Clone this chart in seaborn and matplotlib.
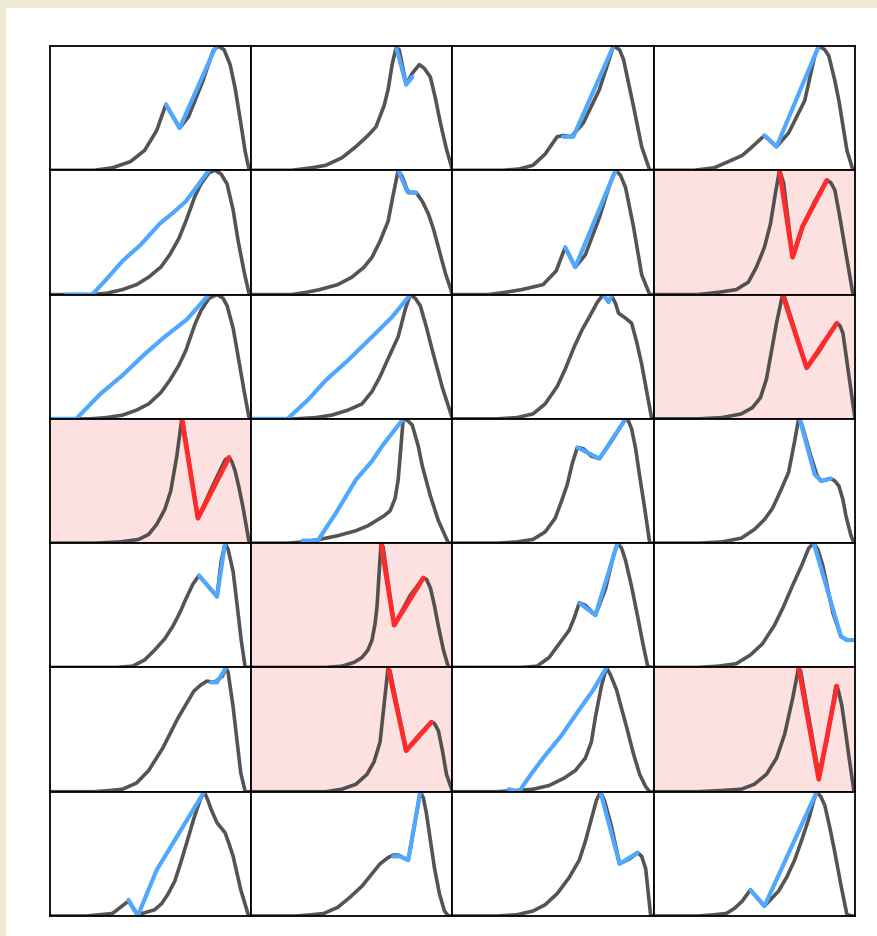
import matplotlib
matplotlib.use("Agg")
import matplotlib.pyplot as plt
import pandas as pd
import seaborn as sns
from matplotlib.patches import Rectangle

# ---- data: density curves (c) and overlay polylines (m) per panel (row, col) ----
c00 = [(0,0),(0.22,0),(0.31,0.02),(0.40,0.07),(0.47,0.16),(0.53,0.32),(0.576,0.53),(0.644,0.34),(0.688,0.43),(0.76,0.72),(0.81,0.96),(0.835,1.0),(0.865,0.97),(0.895,0.85),(0.92,0.66),(0.948,0.38),(0.97,0.15),(0.99,0.0),(1.0,0.0)]
m00 = [(0.576,0.53),(0.644,0.34),(0.825,1.0)]
c01 = [(0,0),(0.2,0),(0.30,0.02),(0.37,0.04),(0.45,0.10),(0.52,0.19),(0.58,0.28),(0.62,0.35),(0.66,0.52),(0.68,0.65),(0.70,0.85),(0.72,0.99),(0.735,0.97),(0.77,0.69),(0.80,0.78),(0.835,0.85),(0.86,0.82),(0.89,0.75),(0.915,0.58),(0.94,0.38),(0.97,0.17),(1.0,0.0)]
m01 = [(0.72,0.99),(0.77,0.69),(0.80,0.75)]
c02 = [(0,0),(0.25,0),(0.33,0.01),(0.40,0.04),(0.46,0.13),(0.52,0.27),(0.55,0.28),(0.59,0.27),(0.65,0.38),(0.73,0.65),(0.77,0.85),(0.80,1.0),(0.83,0.97),(0.85,0.89),(0.875,0.70),(0.90,0.51),(0.94,0.19),(0.98,0.0),(1.0,0.0)]
m02 = [(0.55,0.27),(0.60,0.27),(0.80,1.0)]
c03 = [(0,0),(0.2,0),(0.30,0.02),(0.385,0.08),(0.44,0.12),(0.49,0.19),(0.55,0.28),(0.61,0.19),(0.67,0.30),(0.75,0.56),(0.80,0.92),(0.82,1.0),(0.85,0.97),(0.87,0.92),(0.90,0.72),(0.92,0.56),(0.96,0.16),(0.99,0.0),(1.0,0.0)]
m03 = [(0.55,0.28),(0.61,0.19),(0.82,1.0)]

c10 = [(0,0),(0.2,0),(0.28,0.01),(0.36,0.04),(0.43,0.08),(0.49,0.14),(0.55,0.22),(0.595,0.32),(0.64,0.45),(0.675,0.59),(0.72,0.79),(0.75,0.89),(0.79,0.98),(0.82,1.0),(0.85,0.97),(0.88,0.89),(0.91,0.68),(0.935,0.43),(0.965,0.18),(0.99,0.0),(1.0,0.0)]
m10 = [(0.08,0.0),(0.21,0.0),(0.29,0.14),(0.36,0.27),(0.45,0.40),(0.545,0.57),(0.62,0.67),(0.675,0.75),(0.79,1.0)]
c11 = [(0,0),(0.2,0),(0.28,0.02),(0.34,0.04),(0.43,0.08),(0.50,0.14),(0.56,0.22),(0.60,0.30),(0.64,0.43),(0.68,0.59),(0.705,0.80),(0.73,1.0),(0.75,0.95),(0.78,0.82),(0.82,0.82),(0.85,0.75),(0.88,0.65),(0.905,0.53),(0.93,0.38),(0.965,0.17),(1.0,0.0)]
m11 = [(0.73,1.0),(0.775,0.83),(0.82,0.82)]
c12 = [(0,0),(0.18,0),(0.27,0.02),(0.345,0.04),(0.45,0.08),(0.515,0.19),(0.56,0.38),(0.61,0.22),(0.66,0.32),(0.73,0.62),(0.78,0.88),(0.81,1.0),(0.835,0.96),(0.86,0.86),(0.90,0.54),(0.94,0.16),(0.98,0.0),(1.0,0.0)]
m12 = [(0.56,0.38),(0.61,0.22),(0.81,1.0)]
c13 = [(0,0),(0.22,0),(0.33,0.02),(0.41,0.04),(0.47,0.10),(0.51,0.22),(0.55,0.38),(0.58,0.57),(0.605,0.82),(0.625,1.0),(0.645,0.90),(0.69,0.30),(0.74,0.55),(0.80,0.75),(0.86,0.92),(0.88,0.90),(0.90,0.84),(0.925,0.62),(0.95,0.38),(0.99,0.0),(1.0,0.0)]
m13 = [(0.625,1.0),(0.69,0.30),(0.74,0.55),(0.86,0.92)]

c20 = [(0,0),(0.2,0),(0.28,0.01),(0.36,0.03),(0.43,0.07),(0.49,0.12),(0.55,0.21),(0.595,0.31),(0.64,0.43),(0.675,0.55),(0.72,0.76),(0.75,0.87),(0.79,0.97),(0.83,1.0),(0.86,0.97),(0.88,0.91),(0.91,0.73),(0.935,0.50),(0.965,0.22),(0.99,0.0),(1.0,0.0)]
m20 = [(0.0,0.0),(0.13,0.0),(0.25,0.20),(0.36,0.35),(0.47,0.52),(0.57,0.66),(0.68,0.80),(0.79,1.0)]
c21 = [(0,0),(0.22,0),(0.32,0.01),(0.40,0.03),(0.48,0.07),(0.55,0.12),(0.60,0.22),(0.64,0.34),(0.69,0.52),(0.73,0.66),(0.765,0.88),(0.79,1.0),(0.815,0.97),(0.84,0.91),(0.87,0.74),(0.90,0.55),(0.95,0.25),(1.0,0.0)]
m21 = [(0.0,0.0),(0.18,0.0),(0.28,0.15),(0.37,0.31),(0.48,0.47),(0.60,0.66),(0.70,0.82),(0.79,1.0)]
c22 = [(0,0),(0.22,0),(0.32,0.01),(0.40,0.04),(0.46,0.12),(0.52,0.26),(0.56,0.40),(0.605,0.58),(0.645,0.72),(0.68,0.82),(0.72,0.94),(0.75,1.0),(0.775,0.94),(0.79,0.99),(0.81,0.93),(0.825,0.85),(0.86,0.81),(0.89,0.77),(0.915,0.62),(0.94,0.44),(0.965,0.22),(0.99,0.0),(1.0,0.0)]
m22 = [(0.75,1.0),(0.775,0.94),(0.79,0.99)]
c23 = [(0,0),(0.22,0),(0.34,0.01),(0.435,0.04),(0.49,0.09),(0.53,0.17),(0.56,0.32),(0.58,0.50),(0.61,0.77),(0.64,1.0),(0.65,0.98),(0.76,0.41),(0.825,0.55),(0.88,0.70),(0.91,0.77),(0.925,0.75),(0.94,0.69),(0.96,0.46),(0.98,0.23),(1.0,0.0)]
m23 = [(0.64,1.0),(0.76,0.41),(0.91,0.77)]

c30 = [(0,0),(0.22,0),(0.35,0.01),(0.44,0.03),(0.49,0.07),(0.53,0.15),(0.57,0.27),(0.60,0.42),(0.63,0.70),(0.655,1.0),(0.66,0.98),(0.735,0.20),(0.805,0.45),(0.87,0.67),(0.89,0.69),(0.905,0.65),(0.92,0.58),(0.94,0.44),(0.96,0.28),(0.99,0.0),(1.0,0.0)]
m30 = [(0.655,1.0),(0.735,0.20),(0.89,0.69)]
c31 = [(0,0),(0.18,0),(0.26,0.01),(0.34,0.03),(0.43,0.06),(0.52,0.10),(0.58,0.14),(0.62,0.18),(0.66,0.22),(0.69,0.26),(0.715,0.36),(0.73,0.51),(0.745,0.80),(0.755,1.0),(0.775,0.99),(0.80,0.95),(0.83,0.78),(0.85,0.62),(0.89,0.38),(0.93,0.18),(0.98,0.0),(1.0,0.0)]
m31 = [(0.255,0.02),(0.33,0.02),(0.42,0.24),(0.52,0.51),(0.60,0.66),(0.65,0.78),(0.755,1.0)]
c32 = [(0,0),(0.22,0),(0.32,0.01),(0.40,0.03),(0.46,0.09),(0.51,0.20),(0.54,0.33),(0.57,0.47),(0.595,0.64),(0.62,0.77),(0.65,0.76),(0.69,0.70),(0.73,0.68),(0.79,0.82),(0.84,0.95),(0.86,1.0),(0.875,0.98),(0.89,0.92),(0.91,0.76),(0.93,0.54),(0.955,0.28),(0.98,0.0),(1.0,0.0)]
m32 = [(0.62,0.77),(0.73,0.68),(0.86,1.0)]
c33 = [(0,0),(0.22,0),(0.34,0.01),(0.435,0.04),(0.50,0.11),(0.55,0.19),(0.59,0.28),(0.63,0.42),(0.67,0.57),(0.70,0.82),(0.72,1.0),(0.735,0.96),(0.775,0.73),(0.81,0.55),(0.83,0.50),(0.855,0.51),(0.88,0.52),(0.90,0.50),(0.92,0.46),(0.94,0.35),(0.955,0.22),(0.98,0.06),(0.995,0.0),(1.0,0.0)]
m33 = [(0.725,1.0),(0.80,0.55),(0.835,0.50),(0.88,0.52)]

c40 = [(0,0),(0.22,0),(0.33,0.0),(0.41,0.01),(0.47,0.06),(0.52,0.14),(0.57,0.23),(0.61,0.33),(0.645,0.44),(0.675,0.55),(0.71,0.67),(0.74,0.74),(0.83,0.57),(0.85,0.85),(0.87,1.0),(0.885,0.95),(0.91,0.77),(0.93,0.50),(0.95,0.22),(0.97,0.0),(1.0,0.0)]
m40 = [(0.74,0.74),(0.83,0.57),(0.87,1.0)]
c41 = [(0,0),(0.25,0),(0.37,0.0),(0.45,0.01),(0.51,0.04),(0.55,0.08),(0.58,0.14),(0.60,0.22),(0.615,0.35),(0.625,0.49),(0.635,0.75),(0.645,1.0),(0.655,0.97),(0.71,0.34),(0.79,0.58),(0.855,0.72),(0.87,0.71),(0.89,0.64),(0.91,0.50),(0.93,0.33),(0.955,0.14),(0.98,0.0),(1.0,0.0)]
m41 = [(0.645,1.0),(0.71,0.34),(0.855,0.72)]
c42 = [(0,0),(0.22,0),(0.34,0.0),(0.42,0.01),(0.48,0.08),(0.53,0.19),(0.58,0.30),(0.605,0.40),(0.63,0.52),(0.66,0.50),(0.71,0.42),(0.76,0.63),(0.80,0.90),(0.82,1.0),(0.84,0.96),(0.86,0.86),(0.89,0.65),(0.92,0.41),(0.945,0.20),(0.97,0.01),(0.99,0.0),(1.0,0.0)]
m42 = [(0.63,0.52),(0.71,0.42),(0.82,1.0)]
c43 = [(0,0),(0.22,0),(0.32,0.01),(0.41,0.03),(0.48,0.10),(0.54,0.19),(0.60,0.34),(0.645,0.49),(0.69,0.66),(0.735,0.82),(0.77,0.96),(0.795,1.0),(0.815,0.95),(0.84,0.82),(0.865,0.63),(0.89,0.44),(0.93,0.25),(0.96,0.22),(1.0,0.22)]
m43 = [(0.795,1.0),(0.93,0.25),(0.96,0.22),(1.0,0.22)]

c50 = [(0,0),(0.22,0),(0.30,0.01),(0.36,0.02),(0.43,0.07),(0.49,0.17),(0.56,0.35),(0.635,0.59),(0.715,0.81),(0.75,0.86),(0.78,0.89),(0.818,0.88),(0.857,0.93),(0.875,1.0),(0.885,0.96),(0.91,0.68),(0.93,0.40),(0.948,0.15),(0.97,0.0),(1.0,0.0)]
m50 = [(0.80,0.88),(0.83,0.88),(0.875,1.0)]
c51 = [(0,0),(0.25,0),(0.37,0.0),(0.45,0.02),(0.52,0.06),(0.575,0.14),(0.61,0.24),(0.64,0.40),(0.66,0.70),(0.68,1.0),(0.69,0.97),(0.77,0.33),(0.83,0.45),(0.895,0.56),(0.91,0.55),(0.93,0.49),(0.95,0.33),(0.97,0.14),(1.0,0.0)]
m51 = [(0.68,1.0),(0.77,0.33),(0.895,0.56)]
c52 = [(0,0),(0.22,0),(0.32,0.01),(0.40,0.02),(0.48,0.05),(0.555,0.11),(0.61,0.17),(0.66,0.27),(0.69,0.40),(0.71,0.60),(0.74,0.85),(0.765,1.0),(0.785,0.94),(0.815,0.82),(0.84,0.67),(0.865,0.52),(0.90,0.30),(0.93,0.14),(0.96,0.04),(0.98,0.0),(1.0,0.0)]
m52 = [(0.28,0.02),(0.33,0.0),(0.39,0.14),(0.45,0.27),(0.54,0.45),(0.63,0.66),(0.70,0.82),(0.765,1.0)]
c53 = [(0,0),(0.22,0),(0.34,0.01),(0.435,0.02),(0.50,0.06),(0.56,0.14),(0.61,0.27),(0.65,0.46),(0.69,0.75),(0.72,1.0),(0.73,0.97),(0.82,0.14),(0.86,0.41),(0.905,0.85),(0.915,0.83),(0.935,0.69),(0.955,0.46),(0.97,0.28),(0.995,0.0),(1.0,0.0)]
m53 = [(0.72,1.0),(0.82,0.10),(0.91,0.85)]

c60 = [(0,0),(0.18,0),(0.31,0.02),(0.39,0.12),(0.436,0.01),(0.52,0.05),(0.555,0.10),(0.584,0.17),(0.62,0.28),(0.65,0.43),(0.685,0.62),(0.714,0.78),(0.745,0.93),(0.766,1.0),(0.785,0.93),(0.80,0.86),(0.83,0.75),(0.87,0.67),(0.89,0.58),(0.91,0.48),(0.948,0.21),(0.987,0.0),(1.0,0.0)]
m60 = [(0.39,0.13),(0.436,0.0),(0.53,0.37),(0.766,1.0)]
c61 = [(0,0),(0.22,0),(0.30,0.01),(0.36,0.02),(0.43,0.07),(0.49,0.15),(0.55,0.24),(0.60,0.34),(0.64,0.42),(0.68,0.47),(0.705,0.49),(0.73,0.49),(0.78,0.45),(0.81,0.72),(0.84,1.0),(0.855,0.95),(0.87,0.83),(0.89,0.61),(0.91,0.39),(0.935,0.18),(0.96,0.04),(0.98,0.0),(1.0,0.0)]
m61 = [(0.705,0.48),(0.74,0.48),(0.78,0.45),(0.84,1.0)]
c62 = [(0,0),(0.22,0),(0.32,0.01),(0.40,0.04),(0.46,0.09),(0.52,0.18),(0.58,0.31),(0.63,0.45),(0.66,0.60),(0.69,0.78),(0.715,0.93),(0.735,1.0),(0.755,0.93),(0.79,0.72),(0.83,0.42),(0.88,0.46),(0.92,0.51),(0.94,0.48),(0.96,0.38),(0.975,0.15),(0.985,0.0),(1.0,0.0)]
m62 = [(0.735,1.0),(0.83,0.42),(0.92,0.51)]
c63 = [(0,0),(0.22,0),(0.30,0.01),(0.36,0.02),(0.40,0.06),(0.44,0.12),(0.48,0.21),(0.55,0.08),(0.62,0.20),(0.66,0.31),(0.70,0.45),(0.735,0.61),(0.77,0.78),(0.795,0.93),(0.81,1.0),(0.83,0.96),(0.85,0.89),(0.875,0.71),(0.90,0.51),(0.93,0.25),(0.96,0.01),(0.99,0.0),(1.0,0.0)]
m63 = [(0.48,0.21),(0.55,0.08),(0.81,1.0)]

highlighted = [(1, 3), (2, 3), (3, 0), (4, 1), (5, 1), (5, 3)]
n_rows, n_cols = 7, 4

# ---- styling ----
sns.set_theme(style="white")
W, H, DPI = 878, 937, 100
fig, axes = plt.subplots(n_rows, n_cols, figsize=(W / DPI, H / DPI), dpi=DPI)
fig.patch.set_facecolor("#eeead6")
fig.patches.append(Rectangle((6 / W, 0), 1, 1 - 9 / H, transform=fig.transFigure,
                             facecolor="white", edgecolor="none", zorder=-10))
fig.subplots_adjust(left=50 / W, right=855 / W, top=1 - 47 / H, bottom=1 - 917 / H,
                    wspace=0, hspace=0)

curve_color = "#3c3c3c"
blue = "#4ea8ff"
red = "#ff2b2b"
pink = "#fde0e0"

g = globals()
for r in range(n_rows):
    for c in range(n_cols):
        ax = axes[r, c]
        hl = (r, c) in highlighted
        ax.set_facecolor(pink if hl else "white")
        cdf = pd.DataFrame(g[f"c{r}{c}"], columns=["x", "y"])
        mdf = pd.DataFrame(g[f"m{r}{c}"], columns=["x", "y"])
        sns.lineplot(data=cdf, x="x", y="y", ax=ax, sort=False, estimator=None,
                     color=curve_color, lw=2.6, alpha=0.88,
                     solid_joinstyle="round", solid_capstyle="round")
        sns.lineplot(data=mdf, x="x", y="y", ax=ax, sort=False, estimator=None,
                     color=red if hl else blue, lw=3.4 if hl else 3.0,
                     solid_joinstyle="round", solid_capstyle="round")
        ax.set_xlim(0, 1)
        ax.set_ylim(0, 1)
        ax.set_xticks([])
        ax.set_yticks([])
        ax.set_xlabel("")
        ax.set_ylabel("")
        for s in ax.spines.values():
            s.set_visible(True)
            s.set_color("black")
            s.set_linewidth(1.3)

fig.savefig("out.png", dpi=DPI, facecolor=fig.get_facecolor())
